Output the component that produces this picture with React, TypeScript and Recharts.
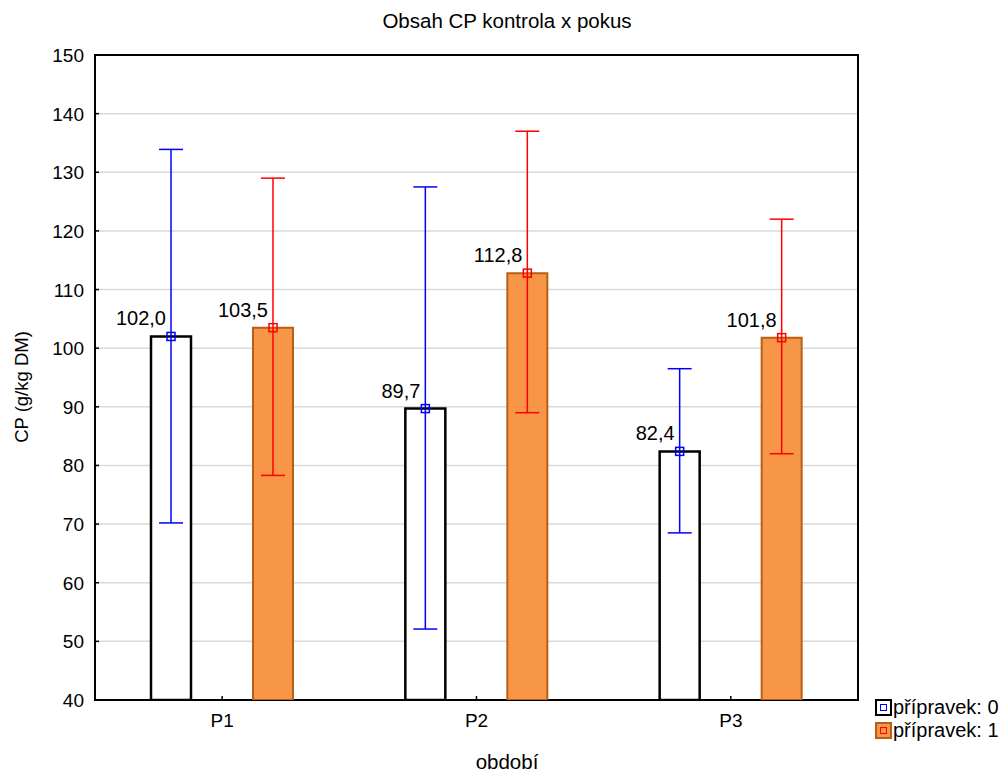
import React from 'react';
import {
  ComposedChart,
  Bar,
  ErrorBar,
  XAxis,
  YAxis,
  CartesianGrid,
  LabelList,
  ReferenceArea,
} from 'recharts';

const periods = ['P1', 'P2', 'P3'];
// přípravek: 0 (kontrola)
const mean0 = [102.0, 89.7, 82.4];
const low0 = [70.2, 52.1, 68.5];
const high0 = [133.9, 127.5, 96.5];
// přípravek: 1 (pokus)
const mean1 = [103.5, 112.8, 101.8];
const low1 = [78.3, 89.0, 82.0];
const high1 = [129.0, 137.0, 122.0];
const yTicks = [40, 50, 60, 70, 80, 90, 100, 110, 120, 130, 140, 150];

const data = periods.map((p, i) => ({
  period: p,
  m0: mean0[i],
  e0: [mean0[i] - low0[i], high0[i] - mean0[i]],
  m1: mean1[i],
  e1: [mean1[i] - low1[i], high1[i] - mean1[i]],
}));

const FONT = '"Liberation Sans", Arial, sans-serif';
const fmt = (v: number) => v.toFixed(1).replace('.', ',');

// mean marker (small open square) plus the value written left of it
const meanLabel = (color: string) => (props: any) => {
  const { x, y, width, value } = props;
  const cx = Number(x) + Number(width) / 2;
  const cy = Number(y);
  return (
    <g>
      <rect x={cx - 4} y={cy - 4} width={8} height={8} fill="none" stroke={color} strokeWidth={1.5} />
      <text x={cx - 5} y={cy - 11} textAnchor="end" fontSize={20} fontFamily={FONT} fill="#000">
        {fmt(Number(value))}
      </text>
    </g>
  );
};

const YTick = (props: any) => {
  const { x, y, payload } = props;
  return (
    <g>
      <text x={x} y={y + 7} textAnchor="end" fontSize={19} fontFamily={FONT} fill="#000">
        {payload.value}
      </text>
      <line x1={x + 11} y1={y} x2={x + 15} y2={y} stroke="#000" strokeWidth={1.5} />
    </g>
  );
};

const XTick = (props: any) => {
  const { x, y, payload } = props;
  return (
    <g>
      <line x1={x} y1={y - 8} x2={x} y2={y - 12} stroke="#000" strokeWidth={1.5} />
      <text x={x} y={y + 19} textAnchor="middle" fontSize={19} fontFamily={FONT} fill="#000">
        {payload.value}
      </text>
    </g>
  );
};

const legendItems = [
  { label: 'přípravek: 0', fill: '#ffffff', border: '#000000', mark: '#0000ff' },
  { label: 'přípravek: 1', fill: '#f79646', border: '#b85f17', mark: '#ff0000' },
];

export default function App() {
  return (
    <div style={{ position: 'absolute', left: 0, top: 0, width: 1005, height: 776, background: '#fff', fontFamily: FONT }}>
      <div style={{ position: 'absolute', left: 0, width: 1014, top: 9, textAlign: 'center', fontSize: 20.5 }}>
        Obsah CP kontrola x pokus
      </div>
      <div
        style={{
          position: 'absolute',
          left: 6,
          top: 387,
          fontSize: 18.5,
          transform: 'translate(-50%, -50%) rotate(-90deg)',
          transformOrigin: 'center',
          whiteSpace: 'nowrap',
          marginLeft: 16,
        }}
      >
        CP (g/kg DM)
      </div>
      <div style={{ position: 'absolute', left: 0, width: 1014, top: 750, textAlign: 'center', fontSize: 20.5 }}>
        období
      </div>
      <div style={{ position: 'absolute', left: 875, top: 698 }}>
        {legendItems.map((it) => (
          <div key={it.label} style={{ display: 'flex', alignItems: 'center', height: 27, marginTop: -4 }}>
            <div
              style={{
                width: 13,
                height: 13,
                border: `2.5px solid ${it.border}`,
                background: it.fill,
                display: 'flex',
                alignItems: 'center',
                justifyContent: 'center',
              }}
            >
              <div style={{ width: 5, height: 5, border: `1.5px solid ${it.mark}` }} />
            </div>
            <span style={{ fontSize: 20, marginLeft: 1 }}>{it.label}</span>
          </div>
        ))}
      </div>
      <ComposedChart
        width={1005}
        height={776}
        data={data}
        margin={{ top: 55, right: 147, left: 0, bottom: 46 }}
        barGap={62}
      >
        <CartesianGrid vertical={false} stroke="#d9d9d9" strokeWidth={1.5} />
        <XAxis
          dataKey="period"
          height={30}
          axisLine={false}
          tickLine={false}
          tickSize={0}
          tickMargin={8}
          tick={<XTick />}
        />
        <YAxis
          width={95}
          domain={[40, 150]}
          ticks={yTicks}
          allowDataOverflow
          axisLine={false}
          tickLine={false}
          tickSize={0}
          tickMargin={11}
          tick={<YTick />}
        />
        <Bar dataKey="m0" barSize={40} fill="#ffffff" stroke="#000000" strokeWidth={2.5} isAnimationActive={false}>
          <ErrorBar dataKey="e0" width={12} stroke="#0000ff" strokeWidth={1.5} direction="y" />
          <LabelList dataKey="m0" content={meanLabel('#0000ff')} />
        </Bar>
        <Bar dataKey="m1" barSize={40} fill="#f79646" stroke="#b85f17" strokeWidth={2} isAnimationActive={false}>
          <ErrorBar dataKey="e1" width={12} stroke="#ff0000" strokeWidth={1.5} direction="y" />
          <LabelList dataKey="m1" content={meanLabel('#ff0000')} />
        </Bar>
        <ReferenceArea y1={40} y2={150} fill="none" stroke="#000" strokeWidth={2} ifOverflow="visible" />
      </ComposedChart>
    </div>
  );
}
